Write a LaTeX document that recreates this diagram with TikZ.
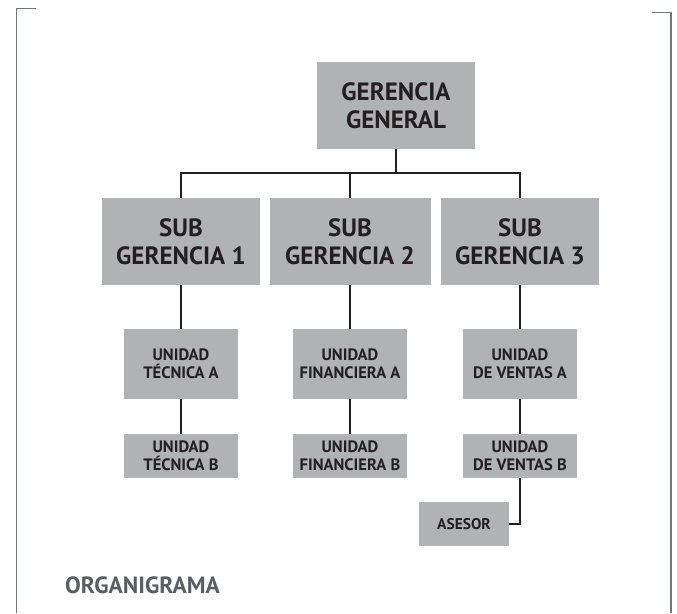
\documentclass[tikz,border=0pt]{standalone}
\usepackage{fontspec}
\setmainfont{PT Sans}
\definecolor{boxgray}{HTML}{B1B2B4}
\definecolor{framegray}{HTML}{70767A}
\definecolor{inkdark}{HTML}{231F20}
\tikzset{
  unitbox/.style={fill=boxgray,inner sep=0pt,align=center,text=inkdark,font=\bfseries},
  link/.style={draw=inkdark,line width=1.8pt},
  frameline/.style={draw=framegray,line width=1.5pt}
}
\begin{document}
\begin{tikzpicture}[x=1pt,y=-1pt]
        \useasboundingbox (0,0) rectangle (677,613);

        \draw[frameline] (36,8.5) -- (16.5,8.5) -- (16.5,613);
        \draw[frameline] (652,12.7) -- (671,12.7) -- (671,613);

        \begin{scope}[every node/.style={unitbox,font=\bfseries\fontsize{25}{28}\selectfont}]
          \node[minimum width=158pt,minimum height=87pt] (gg) at (396,105.5) {GERENCIA\\GENERAL};
          \node[minimum width=158pt,minimum height=87pt] (s1) at (181,241.5) {SUB\\GERENCIA 1};
          \node[minimum width=161pt,minimum height=87pt] (s2) at (350,241.5) {SUB\\GERENCIA 2};
          \node[minimum width=158pt,minimum height=87pt] (s3) at (520,241.5) {SUB\\GERENCIA 3};
        \end{scope}

        \begin{scope}[every node/.style={unitbox,font=\bfseries\fontsize{16.5}{17.5}\selectfont}]
          \node[minimum width=114pt,minimum height=70pt] (t1) at (181,364) {UNIDAD\\TÉCNICA A};
          \node[minimum width=114pt,minimum height=44pt] (t2) at (181,456) {UNIDAD\\TÉCNICA B};
          \node[minimum width=114pt,minimum height=70pt] (f1) at (350,364) {UNIDAD\\FINANCIERA A};
          \node[minimum width=114pt,minimum height=44pt] (f2) at (350,456) {UNIDAD\\FINANCIERA B};
          \node[minimum width=114pt,minimum height=70pt] (v1) at (520,364) {UNIDAD\\DE VENTAS A};
          \node[minimum width=114pt,minimum height=44pt] (v2) at (520,456) {UNIDAD\\DE VENTAS B};
          \node[minimum width=90pt,minimum height=44pt,font=\bfseries\fontsize{15.5}{17}\selectfont] (as) at (464,524) {ASESOR};
        \end{scope}

        \coordinate (bus) at (396,173);

        \begin{scope}[every path/.style={link}]
          \path (gg) edge (bus);
          \draw (s1.north) |- (bus) -| (s3.north);
          \draw (s2.north) -- (s2.north |- bus);
          \path (s1) edge (t1);
          \path (s2) edge (f1);
          \path (s3) edge (v1);
          \path (t1) edge (t2);
          \path (f1) edge (f2);
          \path (v1) edge (v2);
          \draw (v2.south) |- (as.east);
        \end{scope}

        \node[anchor=base west,text=framegray!80!black,font=\bfseries\fontsize{23.5}{26}\selectfont,inner sep=0pt] (title) at (65,593) {ORGANIGRAMA};

      \end{tikzpicture}
\end{document}
